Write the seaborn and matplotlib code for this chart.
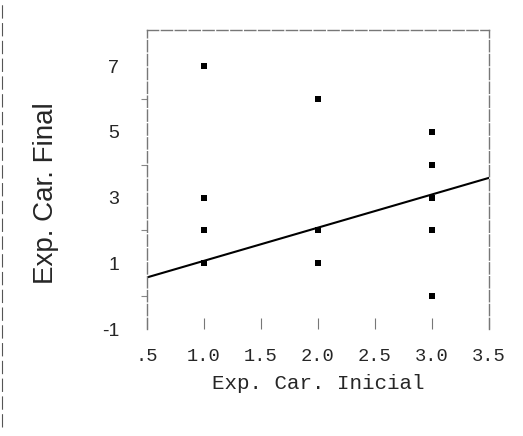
import matplotlib
matplotlib.use("Agg")
import matplotlib.pyplot as plt
import seaborn as sns
import pandas as pd

# data
x_vals = [1, 1, 1, 1, 2, 2, 2, 3, 3, 3, 3, 3]
y_vals = [7, 3, 2, 1, 6, 2, 1, 5, 4, 3, 2, 0]
fit_x = [0.5, 3.5]
fit_y = [0.57, 3.6]
xticks = [0.5, 1.0, 1.5, 2.0, 2.5, 3.0, 3.5]
xtick_labels = [".5", "1.0", "1.5", "2.0", "2.5", "3.0", "3.5"]
yticks = [-1, 1, 3, 5, 7]
ytick_labels = ["-1", "1", "3", "5", "7"]
yminor = [0, 2, 4, 6]

sns.set_style("white")
plt.rcParams['font.family'] = ['Liberation Sans', 'DejaVu Sans']

df = pd.DataFrame({"x": x_vals, "y": y_vals})
fig = plt.figure(figsize=(5.23, 4.36), dpi=100)
ax = fig.add_axes([147/523, 1-329/436, (489-147)/523, (329-30)/436])

sns.scatterplot(data=df, x="x", y="y", ax=ax, marker="s", s=14, color="black",
                edgecolor="black", linewidth=0)
sns.lineplot(x=fit_x, y=fit_y, ax=ax, color="black", linewidth=1.5)

ax.set_xlim(0.5, 3.5)
ax.set_ylim(-1, 8.1)
ax.set_xticks(xticks)
ax.set_xticklabels(xtick_labels, family="Liberation Mono", fontsize=13.5)
ax.set_yticks(yticks)
ax.set_yticklabels(ytick_labels, fontsize=14)
ax.set_yticks(yminor, minor=True)
ax.tick_params(axis="x", direction="in", length=8, width=0.8, color="#777777",
               pad=14, bottom=True)
ax.tick_params(axis="y", which="major", direction="out", length=0, pad=20)
ax.tick_params(axis="y", which="minor", direction="out", length=4, width=0.8,
               color="#888888", left=True)

for side in ["left", "right", "top"]:
    ax.spines[side].set_visible(True)
    ax.spines[side].set_color("#777777")
    ax.spines[side].set_linewidth(1.0)
    ax.spines[side].set_linestyle((0, (8, 2)))
ax.spines["bottom"].set_visible(False)

ax.set_xlabel("Exp. Car. Inicial", family="Liberation Mono", fontsize=15, labelpad=6)
ax.set_ylabel("Exp. Car. Final", fontsize=20, va="center")
ax.yaxis.set_label_coords(-0.295, 0.455)

# scan edge line on the left border
fig.add_artist(plt.Line2D([2/523, 2/523], [0.02, 0.99], color="#555555",
                          linewidth=0.8, linestyle=(0, (12, 4))))

fig.savefig("out.png", dpi=100)
